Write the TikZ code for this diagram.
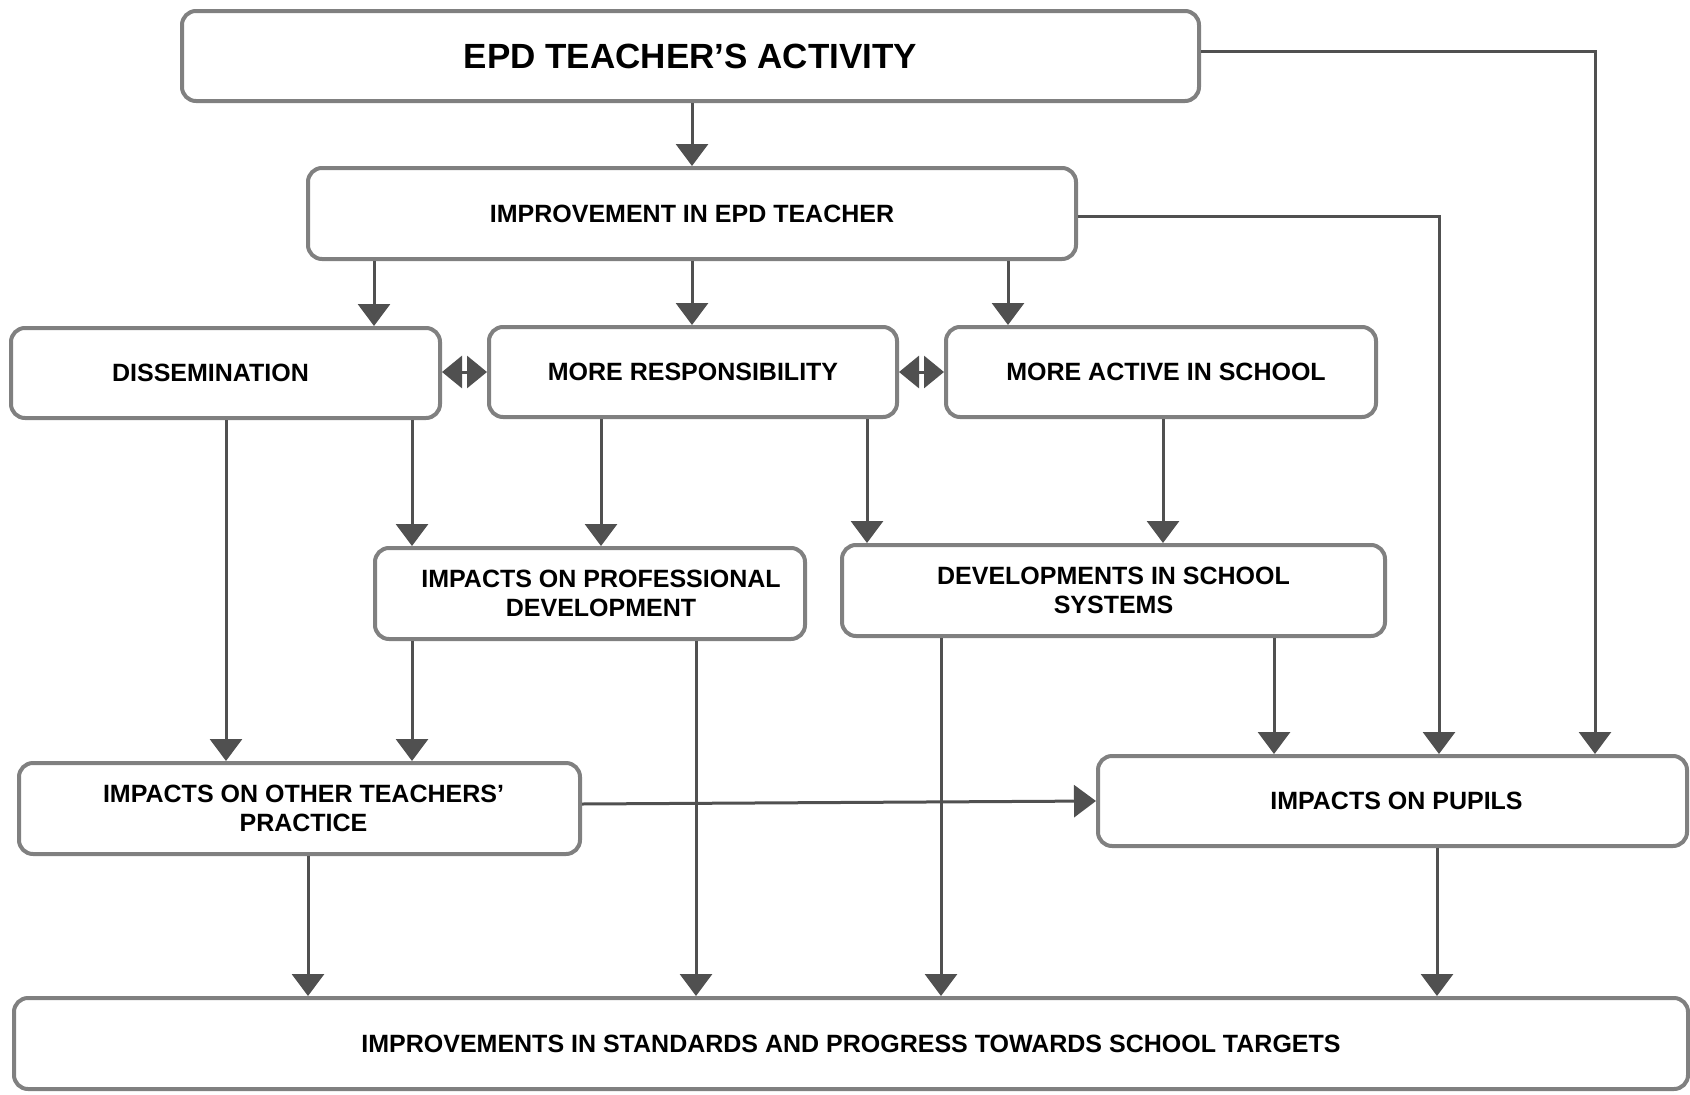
\documentclass[tikz,border=0pt]{standalone}
\usepackage{fontspec}
\setmainfont{Liberation Sans}
\usetikzlibrary{arrows.meta}
\definecolor{boxgray}{RGB}{128,128,128}
\definecolor{arrgray}{RGB}{80,80,80}
\begin{document}
\begin{tikzpicture}[x=1pt,y=-1pt,
  box/.style={draw=boxgray, line width=4pt, rounded corners=14pt, fill=white,
    inner sep=0pt, align=center, font=\bfseries\fontsize{25}{29}\selectfont},
  arr/.style={draw=arrgray, line width=3pt, -{Triangle[length=22pt,width=32pt]}},
  darr/.style={draw=arrgray, line width=3pt,
    {Triangle[length=20pt,width=32pt]}-{Triangle[length=20pt,width=32pt]}}]
\useasboundingbox[fill=white] (0,0) rectangle (1690,1095);

\node[box, minimum width=1017pt, minimum height=90pt, font=\bfseries\fontsize{35}{40}\selectfont] (epd) at (690.5,56) {EPD TEACHER’S ACTIVITY};
\node[box, minimum width=768pt, minimum height=91pt] (imp) at (692,213.5) {IMPROVEMENT IN EPD TEACHER};
\node[box, minimum width=429pt, minimum height=90pt] (diss) at (225.5,373) {\hspace*{-30pt}DISSEMINATION};
\node[box, minimum width=408pt, minimum height=90pt] (resp) at (693,372) {MORE RESPONSIBILITY};
\node[box, minimum width=430pt, minimum height=90pt] (act) at (1161,372) {\hspace*{10pt}MORE ACTIVE IN SCHOOL};
\node[box, minimum width=430pt, minimum height=91pt] (pd) at (590,593.5) {\hspace*{22pt}IMPACTS ON PROFESSIONAL\\\hspace*{22pt}DEVELOPMENT};
\node[box, minimum width=543pt, minimum height=91pt] (dev) at (1113.5,590.5) {DEVELOPMENTS IN SCHOOL\\SYSTEMS};
\node[box, minimum width=561pt, minimum height=91pt] (oth) at (299.5,808.5) {\hspace*{8pt}IMPACTS ON OTHER TEACHERS’\\\hspace*{8pt}PRACTICE};
\node[box, minimum width=589pt, minimum height=90pt] (pup) at (1392.5,801) {\hspace*{8pt}IMPACTS ON PUPILS};
\node[box, minimum width=1674pt, minimum height=91pt] (bot) at (851,1043.5) {IMPROVEMENTS IN STANDARDS AND PROGRESS TOWARDS SCHOOL TARGETS};

% from top box
\draw[arr] (692,0 |- epd.south) -- (692,0 |- imp.north);
\draw[arr] (epd.east |- 0,51) -| (1595,0 |- pup.north);
% from improvement
\draw[arr] (imp.east |- 0,216) -| (1439,0 |- pup.north);
\draw[arr] (374,0 |- imp.south) -- (374,0 |- diss.north);
\draw[arr] (692,0 |- imp.south) -- (692,0 |- resp.north);
\draw[arr] (1008,0 |- imp.south) -- (1008,0 |- act.north);
% double arrows
\draw[darr] (diss.east |- 0,372) -- (resp.west |- 0,372);
\draw[darr] (resp.east |- 0,372) -- (act.west |- 0,372);
% from dissemination
\draw[arr] (226,0 |- diss.south) -- (226,0 |- oth.north);
\draw[arr] (412,0 |- diss.south) -- (412,0 |- pd.north);
% from responsibility
\draw[arr] (601,0 |- resp.south) -- (601,0 |- pd.north);
\draw[arr] (867,0 |- resp.south) -- (867,0 |- dev.north);
% from active
\draw[arr] (1163,0 |- act.south) -- (1163,0 |- dev.north);
% from professional development
\draw[arr] (412,0 |- pd.south) -- (412,0 |- oth.north);
\draw[arr] (696,0 |- pd.south) -- (696,0 |- bot.north);
% from developments
\draw[arr] (941,0 |- dev.south) -- (941,0 |- bot.north);
\draw[arr] (1274,0 |- dev.south) -- (1274,0 |- pup.north);
% from other teachers
\draw[arr] (308,0 |- oth.south) -- (308,0 |- bot.north);
\draw[arr] (oth.east |- 0,804) -- (pup.west |- 0,801);
% from pupils
\draw[arr] (1437,0 |- pup.south) -- (1437,0 |- bot.north);
\end{tikzpicture}
\end{document}
